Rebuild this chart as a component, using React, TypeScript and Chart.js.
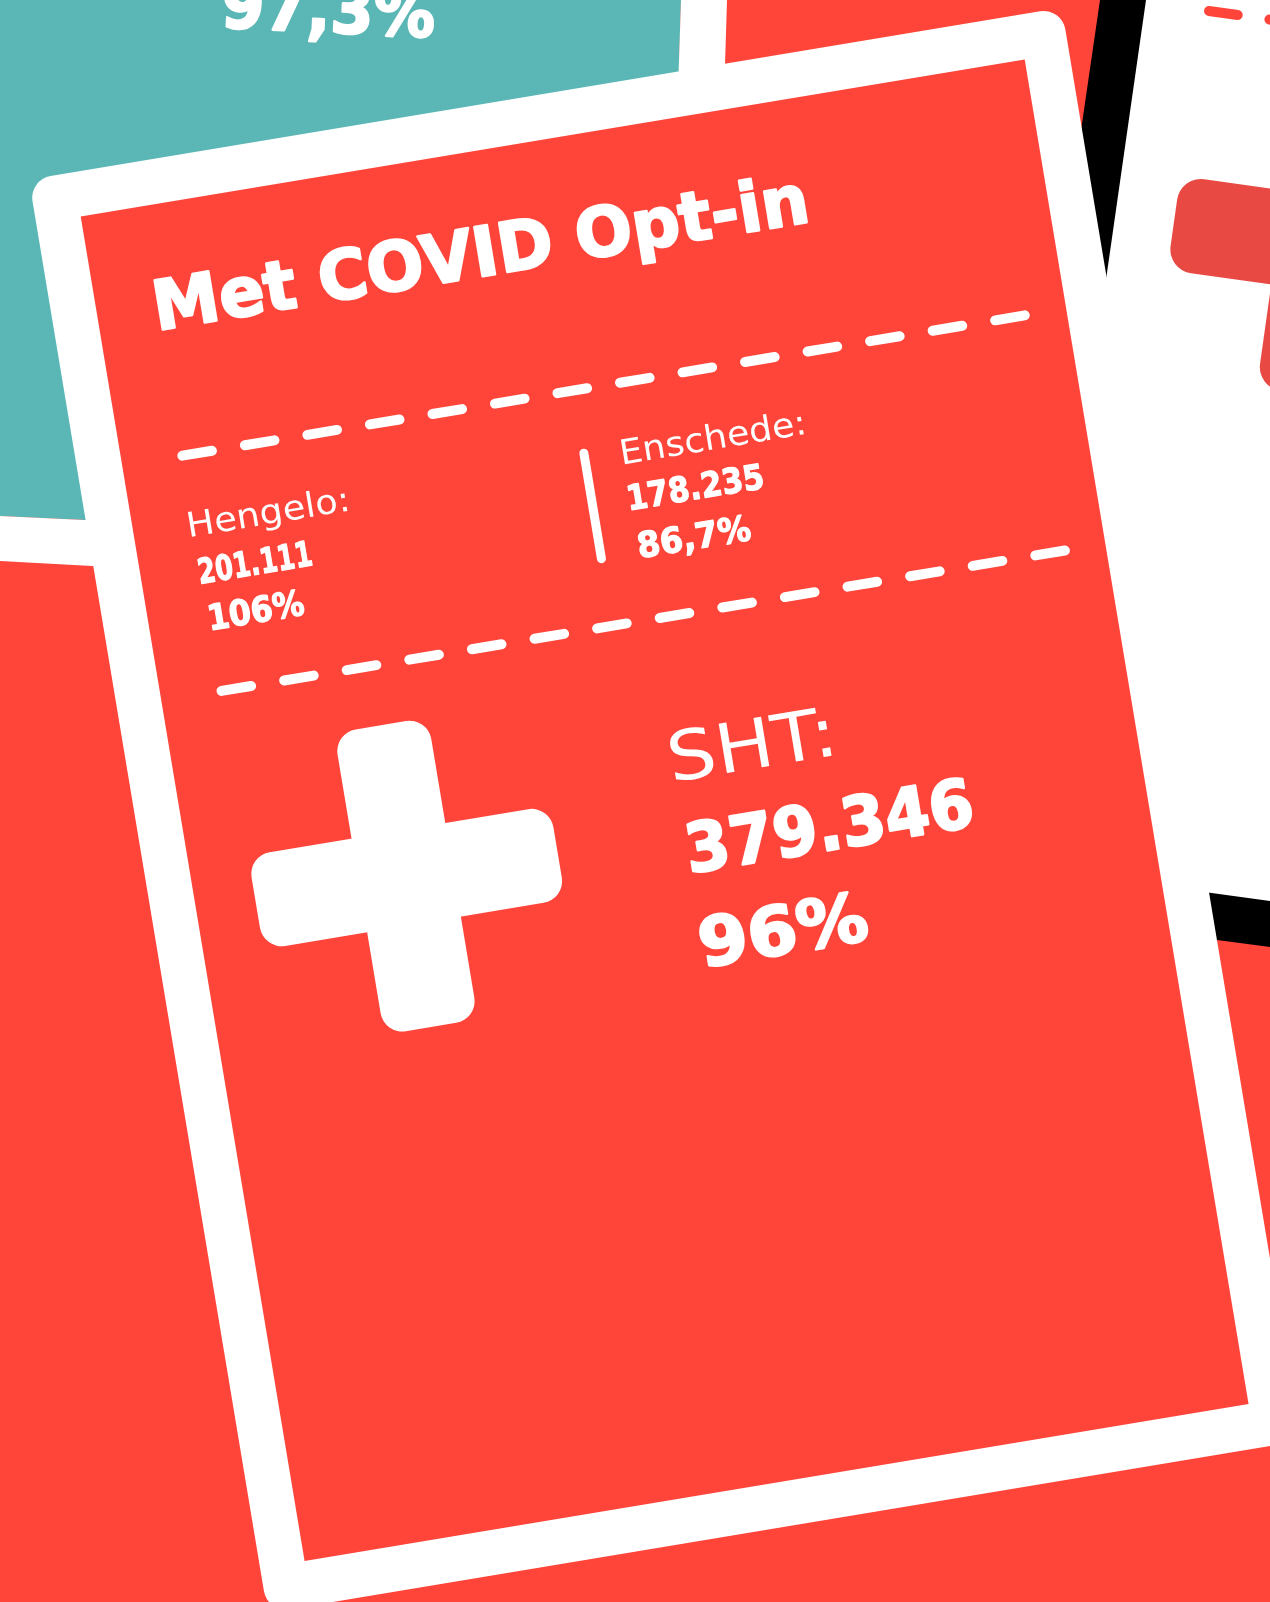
import React, { useEffect, useRef } from "react";
import { Chart, registerables } from "chart.js";

Chart.register(...registerables);

// ---- data ----
const TITLE = "Met COVID Opt-in";
const regions = ["Hengelo", "Enschede", "SHT"];
const counts = [201111, 178235, 379346];
const percents = [106, 86.7, 96];
const neighbourPercent = [97.3]; // partly visible card, top left

// ---- palette ----
const RED = "#FF443A";
const TEAL = "#5BB7B5";
const DARKRED = "#E84A43";
const WHITE = "#FFFFFF";
const FONT = '"DejaVu Sans", "Noto Sans", sans-serif';

function fmtInt(n: number) {
  return String(n).replace(/\B(?=(\d{3})+(?!\d))/g, ".");
}
function fmtPct(p: number) {
  return String(p).replace(".", ",") + "%";
}

function drawFit(
  ctx: CanvasRenderingContext2D,
  text: string,
  x: number,
  y: number,
  capH: number,
  width: number,
  weight: string
) {
  ctx.font = `${weight} 100px ${FONT}`;
  const capRatio = ctx.measureText("H").actualBoundingBoxAscent / 100 || 0.73;
  const heavy = weight === "bold";
  const size = capH / capRatio;
  const lw = heavy ? size * 0.035 : 0;
  const sizeAdj = (capH - lw) / capRatio;
  ctx.font = `${weight} ${sizeAdj}px ${FONT}`;
  ctx.textAlign = "left";
  ctx.textBaseline = "alphabetic";
  const m = ctx.measureText(text);
  const left = m.actualBoundingBoxLeft;
  const w = m.actualBoundingBoxRight + left;
  const sx = (width - lw) / w;
  ctx.save();
  ctx.translate(x + lw / 2, y - lw / 2);
  ctx.scale(sx, 1);
  ctx.fillText(text, left, 0);
  if (heavy) {
    ctx.lineWidth = lw;
    ctx.lineJoin = "round";
    ctx.strokeStyle = ctx.fillStyle as string;
    ctx.strokeText(text, left, 0);
  }
  ctx.restore();
}

function roundRectPath(
  ctx: CanvasRenderingContext2D,
  x: number,
  y: number,
  w: number,
  h: number,
  r: number
) {
  ctx.beginPath();
  ctx.moveTo(x + r, y);
  ctx.lineTo(x + w - r, y);
  ctx.arcTo(x + w, y, x + w, y + r, r);
  ctx.lineTo(x + w, y + h - r);
  ctx.arcTo(x + w, y + h, x + w - r, y + h, r);
  ctx.lineTo(x + r, y + h);
  ctx.arcTo(x, y + h, x, y + h - r, r);
  ctx.lineTo(x, y + r);
  ctx.arcTo(x, y, x + r, y, r);
  ctx.closePath();
}

function poly(ctx: CanvasRenderingContext2D, pts: number[][], color: string) {
  ctx.beginPath();
  ctx.moveTo(pts[0][0], pts[0][1]);
  for (let i = 1; i < pts.length; i++) ctx.lineTo(pts[i][0], pts[i][1]);
  ctx.closePath();
  ctx.fillStyle = color;
  ctx.fill();
}

function cross(ctx: CanvasRenderingContext2D, x: number, y: number, color: string) {
  const arm = 95;
  const len = 306;
  const r = 24;
  ctx.fillStyle = color;
  roundRectPath(ctx, x, y, len, arm, r);
  ctx.fill();
  roundRectPath(ctx, x + 105, y - 107, arm, len, r);
  ctx.fill();
}

function dashes(
  ctx: CanvasRenderingContext2D,
  y: number,
  x0: number,
  x1: number,
  n: number,
  color: string
) {
  const L = 40;
  const lw = 10;
  const p = (x1 - x0 - L) / (n - 1);
  ctx.strokeStyle = color;
  ctx.lineWidth = lw;
  ctx.lineCap = "round";
  for (let i = 0; i < n; i++) {
    const s = x0 + i * p;
    ctx.beginPath();
    ctx.moveTo(s + lw / 2, y);
    ctx.lineTo(s + L - lw / 2, y);
    ctx.stroke();
  }
}

const artPlugin = {
  id: "infographicArt",
  beforeDraw(chart: any) {
    const ctx: CanvasRenderingContext2D = chart.ctx;
    const W = chart.width;
    const H = chart.height;
    const labels: string[] = chart.data.labels;
    const ds = chart.data.datasets[0].data as { x: number; y: number; p: number }[];

    ctx.save();
    ctx.fillStyle = RED;
    ctx.fillRect(0, 0, W, H);

    // teal card top-left
    poly(ctx, [[0, 0], [681, 0], [665, 547], [0, 516]], TEAL);
    ctx.fillStyle = WHITE;
    ctx.save();
    ctx.translate(222, 28.5);
    ctx.rotate(0.046);
    drawFit(ctx, fmtPct(neighbourPercent[0]), 0, 0, 52, 212, "bold");
    ctx.restore();

    // white gaps between background cards
    poly(ctx, [[0, 516], [700, 549], [700, 599], [0, 561]], WHITE);
    poly(ctx, [[681, 0], [727, 0], [714, 420], [667, 420]], WHITE);

    // black shadow + white card on the right
    poly(ctx, [[1100, 0], [W, 0], [W, 947], [968, 907]], "#000000");
    poly(ctx, [[1146, 0], [W, 0], [W, 901], [1022, 867]], WHITE);
    ctx.save();
    ctx.translate(1180.5, 175.8);
    ctx.rotate(0.14);
    cross(ctx, 0, 0, DARKRED);
    ctx.restore();
    ctx.save();
    ctx.translate(1209, 11);
    ctx.rotate(0.14);
    ctx.strokeStyle = RED;
    ctx.lineWidth = 10;
    ctx.lineCap = "round";
    ctx.beginPath();
    ctx.moveTo(0, 0);
    ctx.lineTo(29, 0);
    ctx.stroke();
    ctx.beginPath();
    ctx.moveTo(61, 0);
    ctx.lineTo(90, 0);
    ctx.stroke();
    ctx.restore();

    // ---- main card ----
    const CW = 957;
    const CH = 1363;
    const B = 45;
    ctx.save();
    ctx.translate(80.7, 216.6);
    ctx.rotate(-0.165);
    ctx.fillStyle = WHITE;
    roundRectPath(ctx, -B, -B, CW + 2 * B, CH + 2 * B, 22);
    ctx.fill();
    ctx.fillStyle = RED;
    ctx.fillRect(0, 0, CW, CH);

    ctx.fillStyle = WHITE;
    drawFit(ctx, TITLE, 61, 126, 52.5, 656, "bold");

    dashes(ctx, 252.5, 56, 920, 14, WHITE);
    dashes(ctx, 491, 56, 921, 14, WHITE);

    // divider
    ctx.strokeStyle = WHITE;
    ctx.lineWidth = 9;
    ctx.lineCap = "round";
    ctx.beginPath();
    ctx.moveTo(457.5, 316);
    ctx.lineTo(457.5, 423);
    ctx.stroke();

    ctx.fillStyle = WHITE;
    // Hengelo
    drawFit(ctx, labels[0] + ":", 57, 334, 25, 158, "normal");
    drawFit(ctx, fmtInt(ds[0].y), 58, 382.5, 26.5, 114, "bold");
    drawFit(ctx, fmtPct(ds[0].p), 61, 430, 27, 96, "bold");
    // Enschede
    drawFit(ctx, labels[1] + ":", 496, 333.5, 25, 182, "normal");
    drawFit(ctx, fmtInt(ds[1].y), 494, 380.5, 26.5, 136, "bold");
    drawFit(ctx, fmtPct(ds[1].p), 496, 429.5, 27, 114, "bold");
    // SHT
    drawFit(ctx, labels[2] + ":", 494, 655, 50, 159, "normal");
    drawFit(ctx, fmtInt(ds[2].y), 495, 749, 52, 287, "bold");
    drawFit(ctx, fmtPct(ds[2].p), 492, 844, 52, 168, "bold");

    // white cross
    ctx.fillStyle = WHITE;
    roundRectPath(ctx, 60, 658, 306, 95, 22);
    ctx.fill();
    roundRectPath(ctx, 165, 551, 95, 306, 22);
    ctx.fill();

    ctx.restore();
    ctx.restore();
  },
};

export default function App() {
  const ref = useRef<HTMLCanvasElement | null>(null);
  useEffect(() => {
    document.body.style.margin = "0";
    document.body.style.overflow = "hidden";
    const canvas = ref.current;
    if (!canvas) return;
    const chart = new Chart(canvas, {
      type: "scatter",
      data: {
        labels: regions,
        datasets: [
          {
            data: counts.map((c, i) => ({ x: i, y: c, p: percents[i] })) as any,
            pointRadius: 0,
            showLine: false,
          },
        ],
      },
      options: {
        animation: false,
        responsive: false,
        devicePixelRatio: 1,
        layout: { padding: 0 },
        plugins: { legend: { display: false }, tooltip: { enabled: false } },
        scales: { x: { display: false }, y: { display: false } },
      },
      plugins: [artPlugin],
    });
    return () => chart.destroy();
  }, []);
  return (
    <div style={{ position: "absolute", left: 0, top: 0, width: 1270, height: 1602 }}>
      <canvas ref={ref} width={1270} height={1602} style={{ display: "block" }} />
    </div>
  );
}
